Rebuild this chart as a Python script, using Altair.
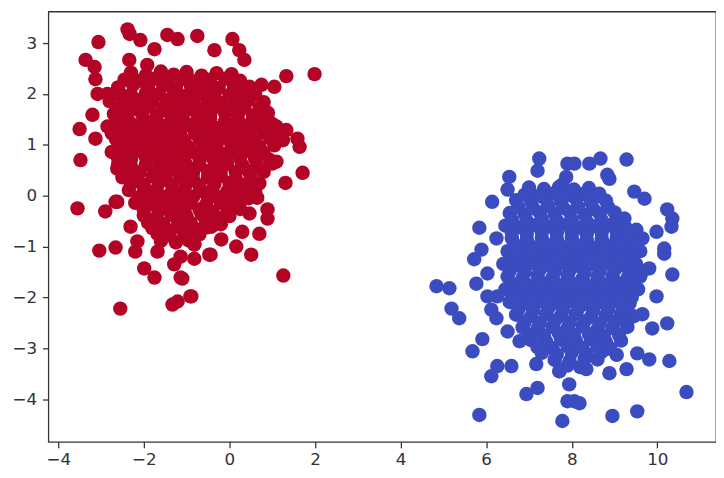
import altair as alt
import pandas as pd

# Red cluster (class 0) - outliers
red_x = [
    -2.38, -2.33, -3.06, -2.08, -3.36, -3.15, -3.13, -2.34, -3.08, -2.85, -2.55, -3.2, -3.5, -3.13, -3.48,
    -1.75, -1.45, -1.21, -0.75, -1.92, 0.07, 0.23, 0.35, -0.35, 1.33, 1.99, 1.05, 0.75, 0.47, 1.0, 1.33,
    1.59, 1.64, 0.7, 0.93, 1.71, -3.55, -2.9, -2.62, -2.31, -3.04, -2.66, -2.2, -1.99, -1.75, -1.14, -2.55,
    -1.33, -1.21, -0.91, -1.68, -1.29, -1.14, -0.82, -0.44, -0.82, -0.44, -1.05, -1.68, -2.15, -2.62, -2.66,
    1.31, 1.1, 0.7, 0.65, 0.89, 0.89, 0.47, 0.7, 0.3, 0.51, 0.16, -0.19, -0.42, -0.47, -0.82, -1.1, -0.89,
    1.26, 0.3, 0.23,
    -2.3, -1.95, -1.6, -1.3, -1.0, -0.65, -0.3, 0.05,
    -2.6, -2.25, -1.9, -1.55, -1.25, -0.9, -0.6, -0.25, 0.1, 0.4,
    -2.8, -2.45, -2.1, -1.8, -1.45, -1.15, -0.85, -0.5, -0.2, 0.15, 0.45, 0.8,
    -2.7, -2.4, -2.05, -1.7, -1.4, -1.1, -0.75, -0.45, -0.1, 0.2, 0.55, 0.9,
    -2.85, -2.5, -2.2, -1.85, -1.55, -1.2, -0.9, -0.6, -0.3, 0.05, 0.35, 0.7, 1.1,
    -2.65, -2.3, -2.0, -1.65, -1.35, -1.05, -0.7, -0.4, -0.05, 0.25, 0.6, 0.95, 1.25,
    -2.75, -2.45, -2.1, -1.8, -1.5, -1.2, -0.85, -0.55, -0.2, 0.1, 0.45, 0.8,
    -2.6, -2.3, -1.95, -1.6, -1.3, -1.0, -0.7, -0.35, -0.05, 0.3, 0.65, 1.0,
    -2.5, -2.15, -1.8, -1.5, -1.15, -0.85, -0.5, -0.2, 0.15, 0.5,
    -2.35, -2.0, -1.7, -1.35, -1.05, -0.7, -0.4, -0.05, 0.3, 0.6,
    -2.2, -1.85, -1.5, -1.2, -0.9, -0.55, -0.2, 0.1,
    -2.0, -1.7, -1.35, -1.0, -0.65, -0.3, 0.0,
    -1.8, -1.45, -1.15, -0.8, -0.5,
    -1.6, -1.25, -0.95,
    # interleaved core rows
    -2.45, -2.1, -1.75, -1.45, -1.1, -0.8, -0.45, -0.1, 0.25,
    -2.65, -2.3, -1.95, -1.65, -1.3, -1.0, -0.7, -0.35, 0.0, 0.3, 0.6,
    -2.55, -2.25, -1.9, -1.55, -1.25, -0.95, -0.6, -0.3, 0.05, 0.35, 0.7,
    -2.65, -2.35, -2.0, -1.7, -1.35, -1.05, -0.75, -0.45, -0.1, 0.2, 0.55, 0.9,
    -2.75, -2.4, -2.1, -1.75, -1.45, -1.15, -0.8, -0.5, -0.2, 0.15, 0.45, 0.8, 1.1,
    -2.5, -2.2, -1.9, -1.55, -1.25, -0.95, -0.6, -0.3, 0.05, 0.35, 0.7, 1.05,
    -2.6, -2.3, -1.95, -1.65, -1.35, -1.05, -0.7, -0.4, -0.1, 0.25, 0.6,
    -2.4, -2.1, -1.75, -1.45, -1.15, -0.85, -0.5, -0.2, 0.15, 0.45, 0.8,
    -2.3, -2.0, -1.65, -1.35, -1.0, -0.7, -0.35, 0.0, 0.35,
    -2.1, -1.75, -1.45, -1.15, -0.85, -0.5, -0.2, 0.15, 0.45,
    -2.0, -1.65, -1.35, -1.05, -0.7, -0.4, -0.05, 0.25,
    -1.9, -1.55, -1.2, -0.9, -0.55, -0.2,
    -1.4, -1.05, -0.7,
]
red_y = [
    3.27, 3.18, 3.02, 3.06, 2.67, 2.53, 2.29, 2.67, 2.0, 2.0, 2.0, 1.59, 1.31, 1.12, 0.7,
    2.88, 3.16, 3.08, 3.14, 2.57, 3.08, 2.86, 2.67, 2.86, 2.35, 2.39, 2.14, 2.18, 2.14, 1.41, 1.29,
    1.12, 0.96, 1.49, 0.71, 0.45, -0.25, -0.31, -0.12, -0.61, -1.08, -1.02, -1.1, -1.43, -1.61, -1.61, -2.22,
    -2.14, -2.08, -1.98, -1.1, -1.35, -1.2, -1.24, -1.16, -0.96, -0.57, -0.71, -0.75, -0.9, 0.53, -0.12,
    0.25, 0.67, 0.24, -0.04, -0.27, -0.45, -0.35, -0.75, -0.71, -1.16, -1.0, -0.86, -0.61, -1.16, -0.96, -1.63, -1.98,
    -1.57, -0.06, 0.22,
    2.42, 2.37, 2.44, 2.38, 2.43, 2.36, 2.41, 2.39,
    2.13, 2.18, 2.12, 2.16, 2.11, 2.17, 2.14, 2.12, 2.18, 2.13,
    1.86, 1.83, 1.88, 1.84, 1.87, 1.82, 1.86, 1.89, 1.83, 1.85, 1.88, 1.84,
    1.61, 1.58, 1.62, 1.57, 1.63, 1.59, 1.61, 1.58, 1.62, 1.6, 1.57, 1.63,
    1.36, 1.33, 1.38, 1.34, 1.37, 1.32, 1.36, 1.39, 1.33, 1.35, 1.38, 1.34, 1.36,
    1.11, 1.08, 1.12, 1.07, 1.13, 1.09, 1.11, 1.08, 1.12, 1.1, 1.07, 1.13, 1.09,
    0.86, 0.83, 0.88, 0.84, 0.87, 0.82, 0.86, 0.89, 0.83, 0.85, 0.88, 0.84,
    0.61, 0.58, 0.62, 0.57, 0.63, 0.59, 0.61, 0.58, 0.62, 0.6, 0.57, 0.63,
    0.36, 0.33, 0.38, 0.34, 0.37, 0.32, 0.36, 0.39, 0.33, 0.35,
    0.11, 0.08, 0.12, 0.07, 0.13, 0.09, 0.11, 0.08, 0.12, 0.1,
    -0.14, -0.17, -0.12, -0.16, -0.13, -0.18, -0.14, -0.12,
    -0.39, -0.42, -0.38, -0.41, -0.37, -0.43, -0.4,
    -0.64, -0.67, -0.63, -0.66, -0.62,
    -0.89, -0.92, -0.88,
    2.28, 2.26, 2.3, 2.27, 2.29, 2.25, 2.28, 2.3, 2.26,
    2.0, 1.98, 2.02, 1.99, 2.01, 1.97, 2.0, 2.02, 1.98, 2.0, 1.99,
    1.73, 1.71, 1.75, 1.72, 1.74, 1.7, 1.73, 1.75, 1.71, 1.73, 1.72,
    1.48, 1.46, 1.5, 1.47, 1.49, 1.45, 1.48, 1.5, 1.46, 1.48, 1.47, 1.49,
    1.23, 1.21, 1.25, 1.22, 1.24, 1.2, 1.23, 1.25, 1.21, 1.23, 1.22, 1.24, 1.23,
    0.98, 0.96, 1.0, 0.97, 0.99, 0.95, 0.98, 1.0, 0.96, 0.98, 0.97, 0.99,
    0.73, 0.71, 0.75, 0.72, 0.74, 0.7, 0.73, 0.75, 0.71, 0.73, 0.72,
    0.48, 0.46, 0.5, 0.47, 0.49, 0.45, 0.48, 0.5, 0.46, 0.48, 0.47,
    0.23, 0.21, 0.25, 0.22, 0.24, 0.2, 0.23, 0.25, 0.21,
    -0.03, -0.05, -0.01, -0.04, -0.02, -0.06, -0.03, -0.01, -0.05,
    -0.28, -0.3, -0.26, -0.29, -0.27, -0.31, -0.28, -0.26,
    -0.53, -0.55, -0.51, -0.54, -0.52, -0.56,
    -0.78, -0.8, -0.76,
]

# Blue cluster (class 1)
blue_x = [
    7.24, 7.2, 6.54, 7.9, 6.14, 6.5, 5.84, 6.24, 5.89, 5.72, 6.03, 5.77, 4.84, 5.14, 7.0,
    8.06, 8.41, 8.67, 9.28, 8.83, 8.88, 9.46, 9.7, 10.23, 10.35, 10.33, 9.98, 9.51, 9.65, 10.16, 10.16,
    10.35, 9.81, 9.23, 7.87, 8.18, 8.64, 7.78,
    5.19, 5.37, 6.03, 6.26, 6.12, 6.24, 5.91, 5.68, 6.26, 6.12, 6.59, 6.94, 7.2, 5.84, 7.78, 6.5, 6.78,
    7.17, 7.71, 7.9,
    9.98, 10.23, 9.88, 9.81, 10.28, 10.68, 9.53, 8.95, 8.06, 8.18, 8.88, 9.28, 9.53, 8.34, 7.71, 7.94,
    8.6, 9.65,
    7.0, 7.35, 7.7, 8.05, 8.4,
    6.7, 7.05, 7.4, 7.75, 8.1, 8.45, 8.8,
    6.55, 6.9, 7.25, 7.6, 7.95, 8.3, 8.65, 9.0,
    6.45, 6.8, 7.15, 7.5, 7.85, 8.2, 8.55, 8.9, 9.25,
    6.6, 6.95, 7.3, 7.65, 8.0, 8.35, 8.7, 9.05, 9.4,
    6.5, 6.85, 7.2, 7.55, 7.9, 8.25, 8.6, 8.95, 9.3, 9.6,
    6.4, 6.75, 7.1, 7.45, 7.8, 8.15, 8.5, 8.85, 9.2, 9.5,
    6.5, 6.85, 7.2, 7.55, 7.9, 8.25, 8.6, 8.95, 9.3, 9.6,
    6.45, 6.8, 7.15, 7.5, 7.85, 8.2, 8.55, 8.9, 9.25, 9.55,
    6.55, 6.9, 7.25, 7.6, 7.95, 8.3, 8.65, 9.0, 9.35,
    6.7, 7.05, 7.4, 7.75, 8.1, 8.45, 8.8, 9.15, 9.45,
    6.85, 7.2, 7.55, 7.9, 8.25, 8.6, 8.95, 9.3,
    7.05, 7.4, 7.75, 8.1, 8.45, 8.8, 9.15,
    7.3, 7.65, 8.0, 8.35, 8.7, 9.05,
    7.9, 8.2,
    # interleaved core rows
    6.9, 7.25, 7.55, 7.9, 8.25, 8.6,
    6.75, 7.1, 7.45, 7.8, 8.15, 8.5, 8.85,
    6.6, 6.95, 7.3, 7.65, 8.0, 8.35, 8.7, 9.05,
    6.6, 6.95, 7.3, 7.65, 8.0, 8.35, 8.7, 9.05, 9.35,
    6.7, 7.05, 7.4, 7.75, 8.1, 8.45, 8.8, 9.15, 9.45,
    6.6, 6.95, 7.3, 7.65, 8.0, 8.35, 8.7, 9.05, 9.4,
    6.55, 6.9, 7.25, 7.6, 7.95, 8.3, 8.65, 9.0, 9.35, 9.65,
    6.6, 6.95, 7.3, 7.65, 8.0, 8.35, 8.7, 9.05, 9.4,
    6.65, 7.0, 7.35, 7.7, 8.05, 8.4, 8.75, 9.1, 9.4,
    6.75, 7.1, 7.45, 7.8, 8.15, 8.5, 8.85, 9.2,
    6.9, 7.25, 7.6, 7.95, 8.3, 8.65, 9.0, 9.3,
    7.0, 7.35, 7.7, 8.05, 8.4, 8.75, 9.1,
    7.2, 7.55, 7.9, 8.25, 8.6, 8.9,
    7.6, 7.95, 8.3,
]
blue_y = [
    0.73, 0.49, 0.37, 0.63, -0.12, 0.12, -0.63, -0.84, -1.06, -1.25, -1.53, -1.73, -1.78, -1.82, 0.08,
    0.63, 0.63, 0.73, 0.71, 0.41, 0.33, 0.08, -0.06, -0.27, -0.45, -0.61, -0.71, -0.67, -0.84, -1.04, -1.14,
    -1.55, -1.43, -0.45, 0.37, 0.02, 0.04, 0.22,
    -2.22, -2.41, -1.98, -1.98, -2.24, -2.41, -2.82, -3.06, -3.35, -3.55, -3.35, -3.9, -3.78, -4.31, -4.43, -2.67, -2.86,
    -3.31, -3.45, -4.04,
    -1.98, -2.51, -2.61, -3.22, -3.25, -3.86, -4.24, -4.33, -4.04, -4.08, -3.49, -3.41, -3.1, -3.41, -3.45, -3.71,
    -3.22, -2.33,
    0.16, 0.13, 0.17, 0.12, 0.15,
    -0.09, -0.12, -0.08, -0.11, -0.07, -0.13, -0.1,
    -0.34, -0.37, -0.33, -0.36, -0.32, -0.38, -0.35, -0.33,
    -0.59, -0.62, -0.58, -0.61, -0.57, -0.63, -0.6, -0.58, -0.62,
    -0.84, -0.87, -0.83, -0.86, -0.82, -0.88, -0.85, -0.83, -0.87,
    -1.09, -1.12, -1.08, -1.11, -1.07, -1.13, -1.1, -1.08, -1.12, -1.09,
    -1.34, -1.37, -1.33, -1.36, -1.32, -1.38, -1.35, -1.33, -1.37, -1.34,
    -1.59, -1.62, -1.58, -1.61, -1.57, -1.63, -1.6, -1.58, -1.62, -1.59,
    -1.84, -1.87, -1.83, -1.86, -1.82, -1.88, -1.85, -1.83, -1.87, -1.84,
    -2.09, -2.12, -2.08, -2.11, -2.07, -2.13, -2.1, -2.08, -2.12,
    -2.34, -2.37, -2.33, -2.36, -2.32, -2.38, -2.35, -2.33, -2.37,
    -2.59, -2.62, -2.58, -2.61, -2.57, -2.63, -2.6, -2.58,
    -2.84, -2.87, -2.83, -2.86, -2.82, -2.88, -2.85,
    -3.09, -3.12, -3.08, -3.11, -3.07, -3.13,
    -3.34, -3.37,
    0.02, 0.0, 0.04, 0.01, 0.03, -0.01,
    -0.23, -0.25, -0.21, -0.24, -0.22, -0.26, -0.23,
    -0.48, -0.5, -0.46, -0.49, -0.47, -0.51, -0.48, -0.46,
    -0.73, -0.75, -0.71, -0.74, -0.72, -0.76, -0.73, -0.71, -0.75,
    -0.98, -1.0, -0.96, -0.99, -0.97, -1.01, -0.98, -0.96, -1.0,
    -1.23, -1.25, -1.21, -1.24, -1.22, -1.26, -1.23, -1.21, -1.25,
    -1.48, -1.5, -1.46, -1.49, -1.47, -1.51, -1.48, -1.46, -1.5, -1.48,
    -1.73, -1.75, -1.71, -1.74, -1.72, -1.76, -1.73, -1.71, -1.75,
    -1.98, -2.0, -1.96, -1.99, -1.97, -2.01, -1.98, -1.96, -2.0,
    -2.23, -2.25, -2.21, -2.24, -2.22, -2.26, -2.23, -2.21,
    -2.48, -2.5, -2.46, -2.49, -2.47, -2.51, -2.48, -2.46,
    -2.73, -2.75, -2.71, -2.74, -2.72, -2.76, -2.73,
    -2.98, -3.0, -2.96, -2.99, -2.97, -3.01,
    -3.23, -3.25, -3.21,
]

x_ticks = [-4, -2, 0, 2, 4, 6, 8, 10]
y_ticks = [-4, -3, -2, -1, 0, 1, 2, 3]

df = pd.concat([
    pd.DataFrame({"x": red_x, "y": red_y, "cls": "0"}),
    pd.DataFrame({"x": blue_x, "y": blue_y, "cls": "1"}),
], ignore_index=True)

axis_common = dict(
    grid=False, domain=False, tickColor="#333", tickSize=6, tickWidth=1.3,
    labelFont="DejaVu Sans", labelFontSize=17, labelColor="#333", title=None,
)

chart = alt.Chart(df).mark_circle(size=215, opacity=1).encode(
    x=alt.X("x:Q", scale=alt.Scale(domain=[-4.23, 11.37], nice=False, zero=False),
            axis=alt.Axis(values=x_ticks, labelPadding=4, **axis_common)),
    y=alt.Y("y:Q", scale=alt.Scale(domain=[-4.84, 3.62], nice=False, zero=False),
            axis=alt.Axis(values=y_ticks, labelPadding=6, **axis_common)),
    color=alt.Color("cls:N", scale=alt.Scale(domain=["0", "1"], range=["#b40426", "#3b4cc0"]), legend=None),
).properties(
    width=678, height=437,
    autosize=alt.AutoSizeParams(type="none"),
    padding={"left": 41, "top": 0, "right": 0, "bottom": 28},
).configure_view(
    stroke="#333", strokeWidth=1.3,
)

chart.save("out.html", embed_options={"renderer": "svg", "actions": False})
